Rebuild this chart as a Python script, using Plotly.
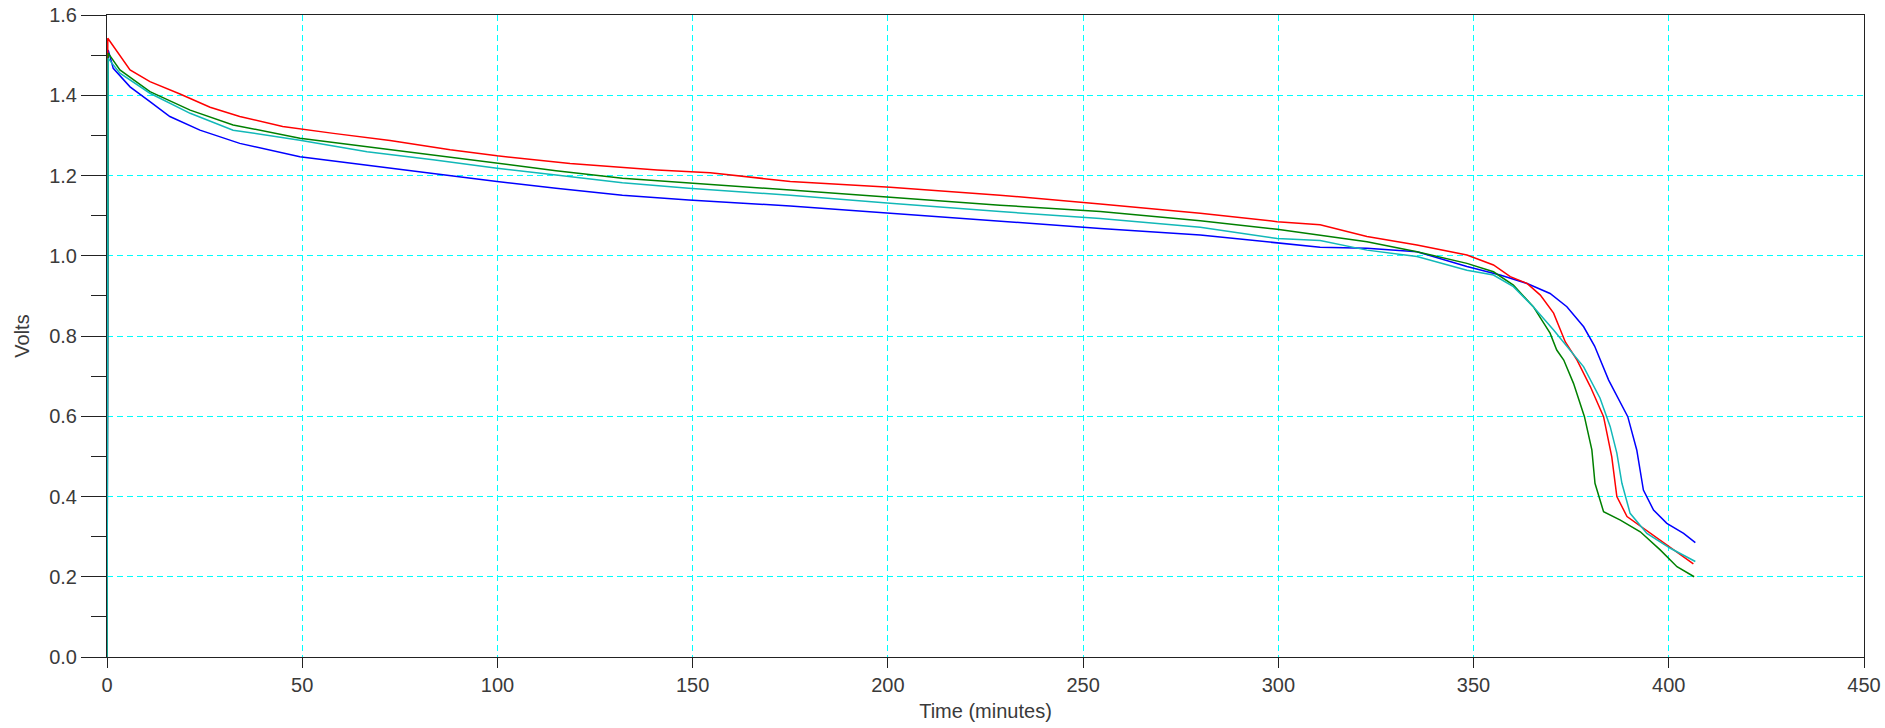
import plotly.graph_objects as go

# Time (minutes) and voltage readings for four cells
red_t = [0, 0.2, 5.9, 11, 18.7, 26.4, 34, 45, 58, 72.5, 87.9, 99.9, 118.6, 140.9, 154.5, 175, 200.6,
         228.7, 254.4, 280, 299.7, 310.7, 322.7, 335.5, 348.3, 355.1, 359.4, 363.7, 367.1, 370.5,
         373.5, 376.5, 379.9, 383.3, 385.4, 386.7, 389.3, 393.5, 399.5, 406.3]
red_v = [0.0, 1.542, 1.463, 1.434, 1.403, 1.370, 1.347, 1.322, 1.305, 1.287, 1.264, 1.249, 1.230, 1.214,
         1.207, 1.185, 1.171, 1.151, 1.129, 1.106, 1.085, 1.077, 1.048, 1.027, 1.002, 0.977, 0.948,
         0.931, 0.902, 0.857, 0.785, 0.740, 0.674, 0.599, 0.499, 0.400, 0.350, 0.321, 0.279, 0.232]

green_t = [0, 0.3, 3.3, 11, 21.3, 32.3, 49.4, 66.6, 83.5, 99.9, 115, 132, 149, 175, 200.6, 228.7, 254.4,
           280, 299.7, 310.7, 322.7, 335.5, 348.3, 355.1, 360.2, 365.3, 369.6, 371.3, 373.1, 375.6,
           378.4, 380.3, 381.1, 383.3, 387.6, 392.7, 397.8, 402.1, 406.5]
green_v = [0.0, 1.505, 1.463, 1.409, 1.363, 1.326, 1.293, 1.272, 1.251, 1.230, 1.212, 1.193, 1.182, 1.164,
           1.146, 1.126, 1.110, 1.087, 1.066, 1.052, 1.035, 1.010, 0.981, 0.960, 0.927, 0.873, 0.807,
           0.765, 0.740, 0.682, 0.599, 0.516, 0.433, 0.362, 0.341, 0.312, 0.267, 0.225, 0.200]

teal_t = [0, 0.3, 3.3, 11, 21.3, 32.3, 49.4, 66.6, 83.5, 99.9, 115, 132, 149, 175, 200.6, 228.7, 254.4,
          280, 299.7, 310.7, 322.7, 335.5, 348.3, 355.1, 360.2, 365.3, 370.5, 373.9, 378.2, 382.4, 385,
          386.7, 388, 390.1, 394.4, 400.4, 406.8]
teal_v = [0.0, 1.492, 1.455, 1.405, 1.355, 1.313, 1.288, 1.259, 1.239, 1.218, 1.201, 1.182, 1.168, 1.151,
          1.131, 1.110, 1.093, 1.071, 1.043, 1.038, 1.014, 0.998, 0.964, 0.952, 0.923, 0.873, 0.815,
          0.775, 0.723, 0.645, 0.574, 0.508, 0.433, 0.358, 0.308, 0.271, 0.238]

blue_t = [0, 0.3, 1.6, 5.9, 11, 16.1, 23.8, 34, 49.4, 66.6, 83.5, 99.9, 115, 132, 149, 175, 200.6, 228.7,
          254.4, 280, 299.7, 310.7, 322.7, 335.5, 348.3, 356.8, 363.7, 369.6, 373.9, 378.2, 381, 384.6,
          389.5, 391.8, 393.5, 396.1, 399.5, 403.8, 406.8]
blue_v = [0.0, 1.513, 1.467, 1.421, 1.384, 1.347, 1.313, 1.280, 1.247, 1.225, 1.205, 1.185, 1.168, 1.151,
          1.139, 1.124, 1.106, 1.085, 1.068, 1.052, 1.031, 1.021, 1.019, 1.010, 0.973, 0.952, 0.931,
          0.906, 0.873, 0.823, 0.775, 0.690, 0.599, 0.516, 0.416, 0.366, 0.333, 0.308, 0.285]

x_ticks = [0, 50, 100, 150, 200, 250, 300, 350, 400, 450]
y_ticks = [0.0, 0.2, 0.4, 0.6, 0.8, 1.0, 1.2, 1.4, 1.6]
y_tick_text = ["0.0", "0.2", "0.4", "0.6", "0.8", "1.0", "1.2", "1.4", "1.6"]

FONT = "Liberation Sans, Arial, sans-serif"
TXT = "#3a3a3a"
AX = "#222222"

fig = go.Figure()
for t, v, c in [(blue_t, blue_v, "#0000ff"), (red_t, red_v, "#ff0000"),
                (green_t, green_v, "#008000"), (teal_t, teal_v, "#12b8b8")]:
    fig.add_trace(go.Scatter(x=t, y=v, mode="lines", line=dict(color=c, width=1.5),
                             showlegend=False, hoverinfo="skip"))

fig.update_layout(
    width=1885, height=728,
    margin=dict(l=107, r=21, t=15, b=71, autoexpand=False),
    paper_bgcolor="white", plot_bgcolor="white",
    font=dict(family=FONT, size=20, color=TXT),
    showlegend=False,
)
fig.update_xaxes(
    range=[0, 450], tickmode="array", tickvals=x_ticks, ticktext=[str(v) for v in x_ticks],
    ticks="outside", ticklen=10, tickwidth=1, tickcolor=AX,
    showline=True, linecolor=AX, linewidth=1, mirror=True,
    showgrid=True, gridcolor="#00ffff", gridwidth=1, griddash="6px,4px",
    zeroline=False, automargin=False,
    tickfont=dict(family=FONT, size=20, color=TXT),
    title=dict(text="Time (minutes)", font=dict(family=FONT, size=20, color=TXT), standoff=8),
)
fig.update_yaxes(
    range=[0, 1.6], tickmode="array", tickvals=y_ticks, ticktext=y_tick_text,
    ticks="outside", ticklen=25, tickwidth=1, tickcolor=AX,
    minor=dict(dtick=0.1, ticks="outside", ticklen=15, tickwidth=1, tickcolor=AX, showgrid=False),
    showline=True, linecolor=AX, linewidth=1, mirror=True,
    showgrid=True, gridcolor="#00ffff", gridwidth=1, griddash="6px,4px",
    zeroline=False, automargin=False,
    tickfont=dict(family=FONT, size=20, color=TXT),
    title=dict(text="Volts", font=dict(family=FONT, size=20, color=TXT), standoff=14),
)

fig.write_html("out.html", config={"displayModeBar": False})
with open("out.html", "r", encoding="utf-8") as f:
    html = f.read()
html = html.replace("<body>", '<body style="margin:0;overflow:hidden">', 1)
with open("out.html", "w", encoding="utf-8") as f:
    f.write(html)
